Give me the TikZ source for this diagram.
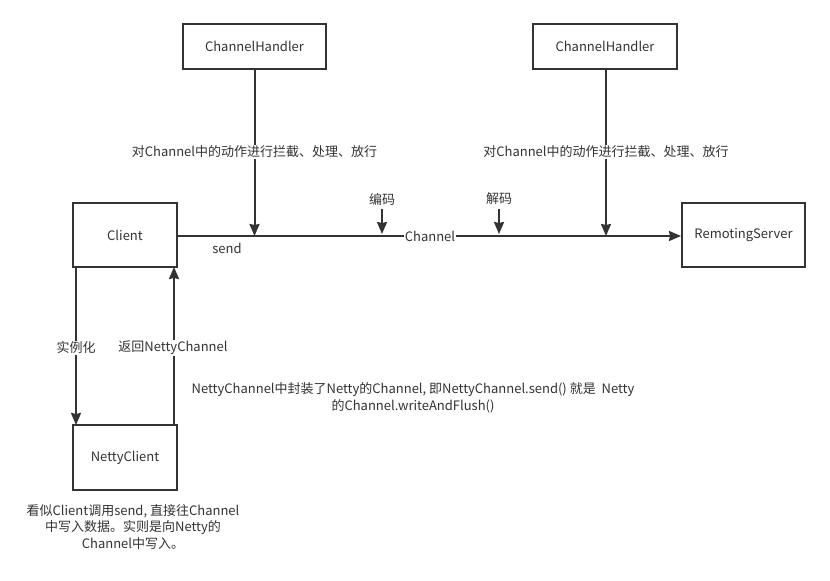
\documentclass[tikz,border=0pt]{standalone}
\usepackage{fontspec}
\setmainfont{Noto Sans CJK SC}
\usetikzlibrary{arrows.meta}
\definecolor{ink}{HTML}{333333}
\begin{document}
\begin{tikzpicture}[x=1pt,y=-1pt,
  font=\fontsize{13}{16.5}\selectfont,
  box/.style={draw=ink,line width=2pt,fill=white,text=ink,inner sep=0pt},
  lbl/.style={text=ink,inner sep=1pt,align=center},
  onlbl/.style={lbl,fill=white},
  conn/.style={draw=ink,line width=2pt,-{Stealth[length=12pt,width=10pt,inset=1pt]}},
  plain/.style={draw=ink,line width=2pt}]
\useasboundingbox[fill=white] (0,0) rectangle (830,581);

% boxes
\node[box,minimum width=143pt,minimum height=45pt] (h1) at (254.5,46.5) {ChannelHandler};
\node[box,minimum width=144pt,minimum height=45pt] (h2) at (605,46.5) {ChannelHandler};
\node[box,minimum width=104pt,minimum height=64pt] (client) at (125,235) {Client};
\node[box,minimum width=123pt,minimum height=64pt] (server) at (743.5,235) {RemotingServer};
\node[box,minimum width=104pt,minimum height=65pt] (netty) at (125,457.5) {NettyClient};

% points on the channel line
\coordinate (p1) at (254.5,236);
\coordinate (p2) at (606,236);
\coordinate (penc) at (382,234);
\coordinate (pdec) at (499,234);

% main channel line from Client to RemotingServer
\draw[conn] (client.east |- 0,236) -- (server.west |- 0,236);
\node[onlbl] (chan) at (430,236) {Channel};
\node[lbl] (send) at (227,248) {send};

% handlers intercept the channel
\draw[conn] (h1.south -| p1) -- (p1);
\draw[conn] (h2.south -| p2) -- (p2);
\node[onlbl] (t1) at (254.5,152) {对Channel中的动作进行拦截、处理、放行};
\node[onlbl] (t2) at (606,152) {对Channel中的动作进行拦截、处理、放行};

% encode / decode markers
\node[lbl] (enc) at (382,199) {编码};
\node[lbl] (dec) at (499,199) {解码};
\draw[conn] (382,209) -- (penc);
\draw[conn] (499,209) -- (pdec);

% Client <-> NettyClient
\draw[conn] (76,267) -- (76,425);
\draw[conn] (174,425) -- (174,267);
\node[onlbl] (inst) at (76,348) {实例化};
\node[onlbl] (ret) at (173,348) {返回NettyChannel};

% notes
\node[lbl] (note1) at (413,398) {NettyChannel中封装了Netty的Channel, 即NettyChannel.send() 就是\ \ Netty\\的Channel.writeAndFlush()};
\node[lbl] (note2) at (133,527) {看似Client调用send, 直接往Channel\\中写入数据。实则是向Netty的\\Channel中写入。};
\end{tikzpicture}
\end{document}
